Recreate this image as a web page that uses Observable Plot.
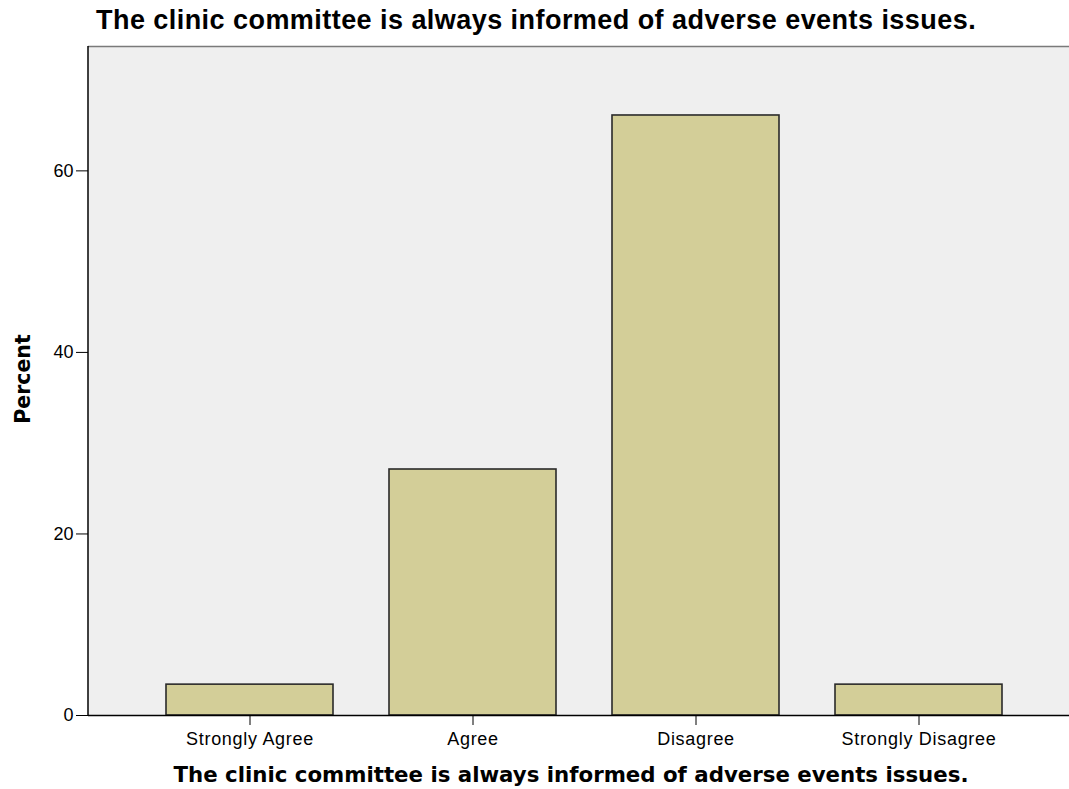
<!DOCTYPE html>
<html>
<head>
<meta charset="utf-8">
<script src="https://cdn.jsdelivr.net/npm/d3@7"></script>
<script src="https://cdn.jsdelivr.net/npm/@observablehq/plot@0.6"></script>
<style>
  html, body { margin: 0; padding: 0; background: #ffffff; }
  body { width: 1069px; height: 789px; overflow: hidden; font-family: "Liberation Sans", Arial, sans-serif; }
  #title { height: 40px; line-height: 40px; padding-left: 96px; font-size: 27px; font-weight: bold; letter-spacing: 0.45px; color: #000; white-space: nowrap; }
  #chart svg g[aria-label="x-axis tick label"] text { letter-spacing: 0.7px; }
</style>
</head>
<body>
<div id="title">The clinic committee is always informed of adverse events issues.</div>
<div id="chart"></div>
<script>
const categories = ["Strongly Agree", "Agree", "Disagree", "Strongly Disagree"];
const percents = [3.4, 27.1, 66.1, 3.4];
const yTicks = [0, 20, 40, 60];
const yMax = 73.7;
const xLabel = "The clinic committee is always informed of adverse events issues.";
const yLabel = "Percent";

const data = categories.map((c, i) => ({category: c, percent: percents[i]}));

const leftLine = (index, scales, values, dims) => {
  const line = document.createElementNS("http://www.w3.org/2000/svg", "line");
  line.setAttribute("x1", dims.marginLeft);
  line.setAttribute("x2", dims.marginLeft);
  line.setAttribute("y1", scales.y(yMax));
  line.setAttribute("y2", scales.y(0));
  line.setAttribute("stroke", "#000");
  line.setAttribute("stroke-width", 1.5);
  return line;
};

const labelFont = "'DejaVu Sans', Verdana, sans-serif";

const chart = Plot.plot({
  width: 1069,
  height: 749,
  marginLeft: 88,
  marginRight: 0,
  marginTop: 6,
  marginBottom: 74,
  style: {fontFamily: "'Liberation Sans', Arial, sans-serif", color: "#000", background: "#ffffff"},
  x: {type: "band", domain: categories, range: [110.25, 1058.25], paddingInner: 0.25, paddingOuter: 0.25, label: null},
  y: {domain: [0, yMax], label: null},
  marks: [
    Plot.frame({fill: "#efefef"}),
    Plot.ruleY([yMax], {stroke: "#7a7a7a", strokeWidth: 1.5}),
    Plot.barY(data, {x: "category", y: "percent", fill: "#d3ce98", stroke: "#2a2a2a", strokeWidth: 1.6}),
    Plot.ruleY([0], {stroke: "#000", strokeWidth: 1.5}),
    leftLine,
    Plot.axisY({ticks: yTicks, tickSize: 12, tickPadding: 3, fontSize: 18, label: null}),
    Plot.axisX({tickSize: 10, tickPadding: 7, fontSize: 18, label: null}),
    Plot.text([xLabel], {frameAnchor: "bottom", lineAnchor: "bottom", dx: -8, dy: 66, fontSize: 21.3, fontWeight: "bold", fontFamily: labelFont, fill: "#000"}),
    Plot.text([yLabel], {frameAnchor: "left", textAnchor: "middle", lineAnchor: "middle", rotate: -90, dx: -65.5, dy: -2, fontSize: 20.5, fontWeight: "bold", fontFamily: labelFont, fill: "#000"})
  ]
});
document.getElementById("chart").appendChild(chart);
</script>
</body>
</html>
